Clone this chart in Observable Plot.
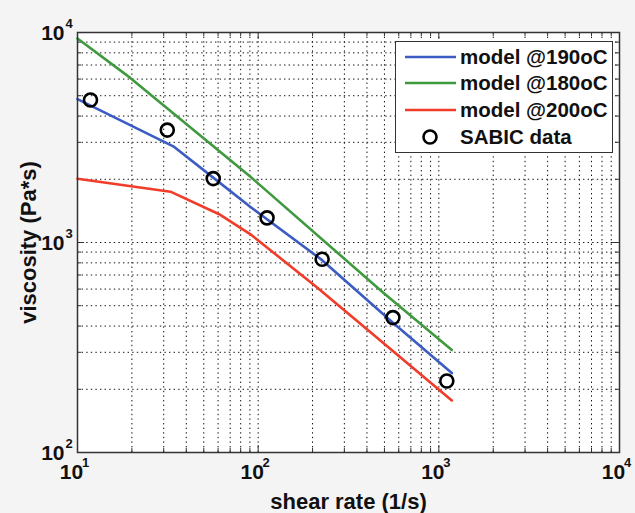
<!DOCTYPE html>
<html>
<head>
<meta charset="utf-8">
<script src="https://cdn.jsdelivr.net/npm/d3@7"></script>
<script src="https://cdn.jsdelivr.net/npm/@observablehq/plot@0.6"></script>
<style>
  html, body { margin: 0; padding: 0; background: #f4f4f4; }
  #wrap { position: relative; width: 635px; height: 513px; font-family: "Liberation Sans", Arial, sans-serif; }
  #legend { position: absolute; left: 395px; top: 41px; width: 218px; height: 112px; box-sizing: border-box; border: 1.5px solid #333; background: #fff; }
</style>
</head>
<body>
<div id="wrap"><div id="legend"></div></div>
<script>
// ---- data ----
const seriesNames = ["model @190oC", "model @180oC", "model @200oC"];
const seriesColors = ["#3c5cc4", "#3f9a3f", "#f03c28"];

const blueX = [10, 33.9, 56.4, 90.3, 226, 557, 1180];
const blueY = [4820, 2870, 2037, 1479, 824, 415, 239];

const greenX = [10, 19.6, 90.3, 491, 1180];
const greenY = [9360, 6080, 2061, 578, 308];

const redX = [10, 32.7, 61.7, 90.3, 212, 491, 1180];
const redY = [2013, 1746, 1355, 1097, 611, 333, 177];

const dataName = "SABIC data";
const dataX = [11.8, 31.4, 56.4, 112, 226, 557, 1107];
const dataY = [4770, 3430, 2015, 1310, 832, 439, 219];

const xMajor = [10, 100, 1000, 10000];
const xExp = ["1", "2", "3", "4"];
const yMajor = [100, 1000, 10000];
const yExp = ["2", "3", "4"];
const xLabel = "shear rate (1/s)";
const yLabel = "viscosity (Pa*s)";

// ---- build tables ----
const lines = [
  ...blueX.map((x, i) => ({x, y: blueY[i], s: seriesNames[0]})),
  ...greenX.map((x, i) => ({x, y: greenY[i], s: seriesNames[1]})),
  ...redX.map((x, i) => ({x, y: redY[i], s: seriesNames[2]}))
];
const pts = dataX.map((x, i) => ({x, y: dataY[i]}));

function logTicks(lo, hi) {
  const out = [];
  for (let d = lo; d < hi; d *= 10) for (let k = 1; k < 10; k++) out.push(k * d);
  out.push(hi);
  return out;
}
const xAll = logTicks(10, 10000);
const yAll = logTicks(100, 10000);
const xMinor = xAll.filter(v => !xMajor.includes(v));
const yMinor = yAll.filter(v => !yMajor.includes(v));
const xGrid = xAll.filter(v => v > 10 && v < 10000);
const yGrid = yAll.filter(v => v > 100 && v < 10000);

const W = 635, H = 513, ML = 77, MR = 16, MT = 32, MB = 61;
const FW = W - ML - MR, FH = H - MT - MB;
const font = {fontFamily: "Liberation Sans, Arial, sans-serif", fontWeight: "bold", fill: "#111"};

const chart = Plot.plot({
  width: W, height: H,
  marginLeft: ML, marginRight: MR, marginTop: MT, marginBottom: MB,
  style: {background: "#f4f4f4", overflow: "visible"},
  x: {type: "log", domain: [10, 10000], axis: null},
  y: {type: "log", domain: [100, 10000], axis: null},
  color: {domain: seriesNames, range: seriesColors},
  marks: [
    Plot.frame({fill: "white", stroke: null}),
    Plot.ruleX(xGrid, {x: d => d, stroke: "#111", strokeWidth: 1, strokeDasharray: "1.4,3.2"}),
    Plot.ruleY(yGrid, {y: d => d, stroke: "#111", strokeWidth: 1, strokeDasharray: "1.4,3.2"}),
    // inward ticks on all four sides
    Plot.tickX(xMinor, {x: d => d, insetTop: FH - 4, stroke: "#333"}),
    Plot.tickX(xMinor, {x: d => d, insetBottom: FH - 4, stroke: "#333"}),
    Plot.tickX(xMajor, {x: d => d, insetTop: FH - 7, stroke: "#333"}),
    Plot.tickX(xMajor, {x: d => d, insetBottom: FH - 7, stroke: "#333"}),
    Plot.tickY(yMinor, {y: d => d, insetRight: FW - 4, stroke: "#333"}),
    Plot.tickY(yMinor, {y: d => d, insetLeft: FW - 4, stroke: "#333"}),
    Plot.tickY(yMajor, {y: d => d, insetRight: FW - 7, stroke: "#333"}),
    Plot.tickY(yMajor, {y: d => d, insetLeft: FW - 7, stroke: "#333"}),
    Plot.line(lines, {x: "x", y: "y", z: "s", stroke: "s", strokeWidth: 2.6}),
    Plot.dot(pts, {x: "x", y: "y", r: 6.5, stroke: "#000", strokeWidth: 2.6, fill: "none"}),
    Plot.frame({stroke: "#333", strokeWidth: 1.5}),
    // tick labels
    Plot.text(xMajor, {x: d => d, frameAnchor: "bottom", lineAnchor: "middle", text: () => "10", dx: -6, dy: 20, fontSize: 21, ...font}),
    Plot.text(xMajor, {x: d => d, frameAnchor: "bottom", lineAnchor: "middle", text: (d, i) => xExp[i], dx: 8, dy: 10, fontSize: 13, ...font}),
    Plot.text(yMajor, {y: d => d, frameAnchor: "left", lineAnchor: "middle", text: () => "10", textAnchor: "end", dx: -13, dy: 1, fontSize: 21, ...font}),
    Plot.text(yMajor, {y: d => d, frameAnchor: "left", lineAnchor: "middle", text: (d, i) => yExp[i], textAnchor: "start", dx: -12, dy: -9, fontSize: 13, ...font}),
    // axis titles
    Plot.text([xLabel], {frameAnchor: "bottom", lineAnchor: "middle", textAnchor: "middle", text: d => d, dy: 49, fontSize: 22, ...font}),
    Plot.text([yLabel], {frameAnchor: "left", lineAnchor: "middle", textAnchor: "middle", text: d => d, rotate: -90, dx: -49, fontSize: 22, ...font})
  ]
});
document.getElementById("wrap").prepend(chart);

// ---- legend (inside the axes, top-right) ----
const ns = "http://www.w3.org/2000/svg";
const lg = document.createElementNS(ns, "svg");
lg.setAttribute("width", 215); lg.setAttribute("height", 109);
lg.style.display = "block";
const rowY = [15, 41, 68, 95];
function addText(x, y, s) {
  const t = document.createElementNS(ns, "text");
  t.setAttribute("x", x); t.setAttribute("y", y);
  t.setAttribute("font-size", 20.5); t.setAttribute("font-weight", "bold");
  t.setAttribute("font-family", "Liberation Sans, Arial, sans-serif");
  t.setAttribute("fill", "#111");
  t.textContent = s;
  lg.appendChild(t);
}
seriesNames.forEach((name, i) => {
  const l = document.createElementNS(ns, "line");
  l.setAttribute("x1", 9); l.setAttribute("x2", 60);
  l.setAttribute("y1", rowY[i]); l.setAttribute("y2", rowY[i]);
  l.setAttribute("stroke", seriesColors[i]); l.setAttribute("stroke-width", 2.6);
  lg.appendChild(l);
  addText(64, rowY[i] + 7, name);
});
const c = document.createElementNS(ns, "circle");
c.setAttribute("cx", 34); c.setAttribute("cy", rowY[3]); c.setAttribute("r", 6.5);
c.setAttribute("fill", "none"); c.setAttribute("stroke", "#000"); c.setAttribute("stroke-width", 2.6);
lg.appendChild(c);
addText(64, rowY[3] + 7, dataName);
document.getElementById("legend").appendChild(lg);
</script>
</body>
</html>
